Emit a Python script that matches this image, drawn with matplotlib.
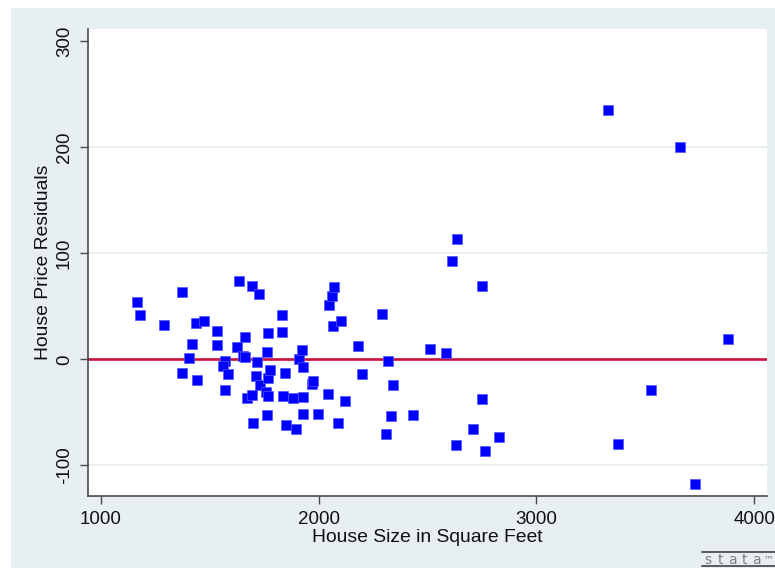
import matplotlib
matplotlib.use("Agg")
import matplotlib.pyplot as plt
from matplotlib.patches import Rectangle
from matplotlib.lines import Line2D

# Data: house size (sq ft) and house price residuals
house_size = [1167, 1182, 1291, 1373, 1372, 1405, 1419, 1436, 1444, 1474,
              1533, 1533, 1569, 1563, 1571, 1583, 1624, 1635, 1655, 1663,
              1661, 1670, 1693, 1693, 1701, 1719, 1713, 1728, 1731, 1758,
              1762, 1767, 1764, 1770, 1770, 1777, 1832, 1834, 1848, 1838,
              1851, 1884, 1897, 1910, 1923, 1930, 1927, 1929, 1969, 1976,
              1998, 2045, 2048, 2062, 2065, 2073, 2088, 2103, 2122, 2183,
              2201, 2292, 2310, 2319, 2333, 2341, 2435, 2512, 2587, 2614,
              2631, 2636, 2708, 2751, 2749, 2766, 2827, 3329, 3374, 3527,
              3661, 3730, 3879]
residuals = [54.3, 41.5, 32.3, 63.7, -12.9, 1.2, 14.4, 33.9, -19.2, 36.4,
             26.4, 13.5, -1.3, -6.3, -29.4, -13.9, 11.3, 73.8, 3.4, 1.9,
             21.3, -36.2, -33.6, 69.1, -59.8, -2.3, -15.7, 61.3, -24.2, -30.5,
             6.6, -34.3, -52.8, 25.1, -17.9, -10.1, 41.8, 26.0, -12.6, -34.3,
             -61.9, -36.2, -65.7, 0.0, 8.3, -7.0, -35.2, -52.0, -23.6, -20.5,
             -51.6, -32.4, 51.2, 59.9, 31.4, 67.9, -60.3, 36.4, -39.0, 12.3,
             -14.1, 42.2, -70.4, -1.6, -53.6, -23.8, -52.8, 9.4, 5.7, 92.9,
             -80.5, 113.7, -66.0, 68.8, -37.1, -86.1, -73.0, 235.0, -79.5, -28.7,
             200.1, -117.2, 19.4]

x_ticks = [1000, 2000, 3000, 4000]
y_ticks = [-100, 0, 100, 200, 300]
grid_levels = [-100, 100, 200]
x_title = "House Size in Square Feet"
y_title = "House Price Residuals"
logo_chars = ["s", "t", "a", "t", "a", "\u2122"]

plt.rcParams['font.family'] = ['Liberation Sans', 'DejaVu Sans']

W, H = 775, 568
fig = plt.figure(figsize=(W / 100, H / 100), dpi=100)
fig.patch.set_facecolor('white')

# Stata-like background panel
fig.patches.append(Rectangle((11 / W, 0), 1 - 11 / W, (H - 8) / H,
                             transform=fig.transFigure, facecolor='#e8eff2',
                             edgecolor='none', zorder=-10))

left, right, top, bottom = 87.7, 766.7, 29.0, 495.7
ax = fig.add_axes([left / W, (H - bottom) / H, (right - left) / W, (bottom - top) / H])
ax.set_zorder(1)
ax.set_facecolor('white')

ax.set_xlim(940, 4058)
ax.set_ylim(-128.6, 311.3)

for g in grid_levels:
    ax.axhline(g, color='#e3ecef', lw=1.2, zorder=1)

ax.axhline(0, color='#c8103c', lw=1.9, zorder=2)

ax.plot(house_size, residuals, linestyle='none', marker='s', markersize=7.4,
        markerfacecolor='#0000ff', markeredgecolor='#5555ff',
        markeredgewidth=0.5, zorder=3)

for s in ['top', 'right']:
    ax.spines[s].set_visible(False)
for s in ['left', 'bottom']:
    ax.spines[s].set_color('#4a4a4a')
    ax.spines[s].set_linewidth(1.2)

ax.set_xticks(x_ticks)
ax.set_yticks(y_ticks)
ax.set_xticklabels([str(v) for v in x_ticks])
ax.set_yticklabels([str(v) for v in y_ticks])
ax.tick_params(axis='both', direction='out', length=5.5, width=1.0,
               color='#4a4a4a', labelsize=13.5, labelcolor='#111111')
ax.tick_params(axis='x', pad=5.5)
ax.tick_params(axis='y', pad=5.0)
plt.setp(ax.get_yticklabels(), rotation=90, va='center', ha='right')

fig.text(427 / W, 1 - 538 / H, x_title, ha='center', va='center',
         fontsize=13.9, color='#111111')
fig.text(44 / W, 1 - 262.5 / H, y_title, ha='center', va='center',
         rotation=90, fontsize=13.9, color='#111111')

# Stata logo
fig.lines.append(Line2D([702 / W, 1.0], [1 - 552 / H, 1 - 552 / H],
                        transform=fig.transFigure, color='#333333', lw=1.1))
fig.lines.append(Line2D([702 / W, 1.0], [1 - 566 / H, 1 - 566 / H],
                        transform=fig.transFigure, color='#333333', lw=1.1))
for i, ch in enumerate(logo_chars):
    fig.text((708 + 12 * i) / W, 1 - 559.5 / H, ch, ha='center', va='center',
             fontsize=10 if ch != "\u2122" else 7, color='#808080',
             family=['DejaVu Sans'])

fig.savefig("out.png", dpi=100)
